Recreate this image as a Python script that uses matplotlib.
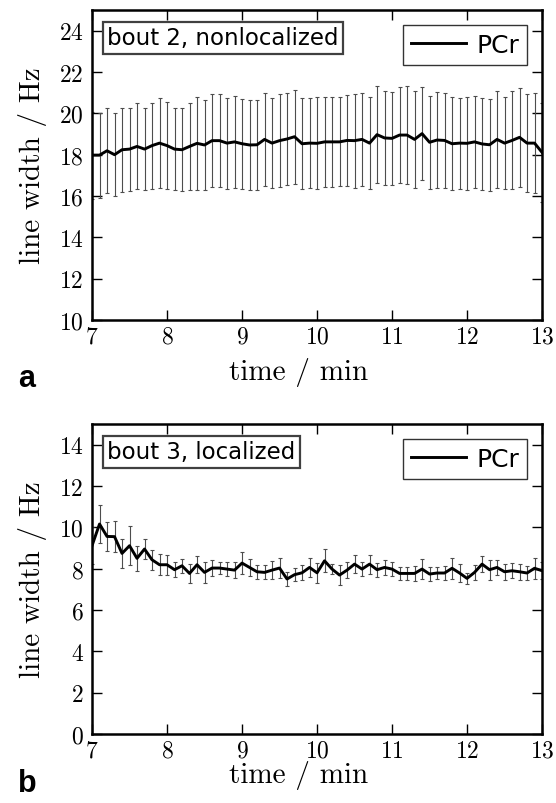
import numpy as np
import matplotlib
matplotlib.use("Agg")
import matplotlib.pyplot as plt

plt.rcParams['font.family'] = 'serif'
plt.rcParams['font.serif'] = ['cmr10']
plt.rcParams['axes.formatter.use_mathtext'] = True

# sample times (min), one spectrum every 0.1 min
time = np.linspace(7.0, 13.0, 61)

# bout 2, nonlocalized: PCr line width (Hz) and error
pcr_nonloc = [17.98, 17.98, 18.19, 18.00, 18.24, 18.27, 18.40, 18.27, 18.44, 18.56,
              18.44, 18.27, 18.24, 18.40, 18.55, 18.47, 18.68, 18.68, 18.56, 18.62,
              18.53, 18.47, 18.48, 18.74, 18.56, 18.68, 18.76, 18.87, 18.53, 18.56,
              18.55, 18.62, 18.62, 18.62, 18.69, 18.68, 18.74, 18.56, 18.97, 18.81,
              18.79, 18.95, 18.95, 18.74, 19.02, 18.60, 18.71, 18.69, 18.53, 18.56,
              18.55, 18.62, 18.52, 18.48, 18.74, 18.56, 18.69, 18.84, 18.56, 18.56,
              18.11]
err_nonloc = [2.10, 2.06, 2.05, 2.00, 2.03, 2.01, 2.08, 1.98, 2.08, 2.17,
              2.10, 2.00, 2.01, 2.11, 2.24, 2.16, 2.24, 2.26, 2.20, 2.22,
              2.17, 2.18, 2.17, 2.24, 2.16, 2.24, 2.24, 2.27, 2.19, 2.19,
              2.23, 2.17, 2.18, 2.15, 2.22, 2.28, 2.26, 2.22, 2.33, 2.26,
              2.24, 2.32, 2.35, 2.35, 2.25, 2.26, 2.31, 2.29, 2.24, 2.20,
              2.26, 2.23, 2.21, 2.22, 2.34, 2.24, 2.37, 2.39, 2.38, 2.42,
              2.40]

# bout 3, localized
pcr_loc = [9.11, 10.16, 9.56, 9.55, 8.74, 9.11, 8.50, 8.95, 8.43, 8.19,
           8.19, 7.95, 8.14, 7.77, 8.19, 7.82, 8.03, 8.03, 7.98, 7.93,
           8.27, 8.06, 7.85, 7.82, 7.93, 8.03, 7.50, 7.71, 7.80, 8.06,
           7.80, 8.38, 7.98, 7.69, 7.93, 8.22, 7.98, 8.22, 7.95, 8.06,
           7.98, 7.77, 7.77, 7.77, 7.98, 7.74, 7.79, 7.79, 8.02, 7.79,
           7.53, 7.82, 8.22, 7.95, 8.06, 7.85, 7.90, 7.85, 7.79, 8.02,
           7.90]
err_loc = [0.90, 0.91, 0.69, 0.76, 0.71, 0.94, 0.62, 0.48, 0.48, 0.51,
           0.48, 0.35, 0.35, 0.47, 0.40, 0.50, 0.39, 0.28, 0.32, 0.40,
           0.54, 0.40, 0.34, 0.34, 0.43, 0.47, 0.32, 0.32, 0.36, 0.48,
           0.47, 0.55, 0.26, 0.47, 0.38, 0.43, 0.33, 0.46, 0.34, 0.36,
           0.34, 0.32, 0.32, 0.36, 0.50, 0.32, 0.28, 0.36, 0.50, 0.44,
           0.27, 0.36, 0.38, 0.48, 0.36, 0.40, 0.36, 0.40, 0.32, 0.51,
           0.40]

# title, values, errors, y range, panel letter, xlabel y, letter y
panels = [
    ("bout 2, nonlocalized", pcr_nonloc, err_nonloc, (10, 25), "a", -0.12, 0.519),
    ("bout 3, localized", pcr_loc, err_loc, (0, 15), "b", -0.085, 0.015),
]

fig = plt.figure(figsize=(5.56, 8.04), dpi=100)
axes_pos = [[0.1655, 0.6007, 0.8094, 0.3856],
            [0.1655, 0.0858, 0.8094, 0.3856]]

for pos, (title, y, e, ylim, letter, xl_y, let_y) in zip(axes_pos, panels):
    ax = fig.add_axes(pos)
    ax.errorbar(time, y, yerr=e, fmt='none', ecolor='0.3', elinewidth=0.8,
                capsize=1.5, capthick=0.8)
    ax.plot(time, y, color='k', lw=2.1, label='PCr')
    ax.set_xlim(7, 13)
    ax.set_ylim(*ylim)
    ax.set_yticks(np.arange(ylim[0], ylim[1], 2))
    ax.set_xticks(np.arange(7, 14, 1))
    ax.tick_params(direction='in', top=True, right=True, length=7, width=1,
                   labelsize=17)
    ax.tick_params(axis='y', pad=6)
    ax.tick_params(axis='x', pad=4)
    for s in ax.spines.values():
        s.set_linewidth(1.8)
    ax.set_xlabel("time / min", fontsize=21)
    ax.xaxis.set_label_coords(0.46, xl_y)
    ax.set_ylabel("line width / Hz", fontsize=21)
    ax.yaxis.set_label_coords(-0.1, 0.5)
    ax.text(0.034, 0.947, title, transform=ax.transAxes, ha='left', va='top',
            fontsize=16.5, family='DejaVu Sans',
            bbox=dict(boxstyle='square,pad=0.2', fc='white', ec='0.25', lw=1.6))
    leg = ax.legend(loc='upper right', prop={'family': 'DejaVu Sans', 'size': 18},
                    fancybox=False, framealpha=1, edgecolor='0.2',
                    handlelength=2.2, handletextpad=0.4, borderpad=0.32,
                    borderaxespad=0.6)
    leg.get_frame().set_linewidth(1.0)
    fig.text(0.032, let_y, letter, fontsize=22, fontweight='bold',
             family='Liberation Sans', ha='left', va='baseline')

plt.savefig('out.png', dpi=100)
